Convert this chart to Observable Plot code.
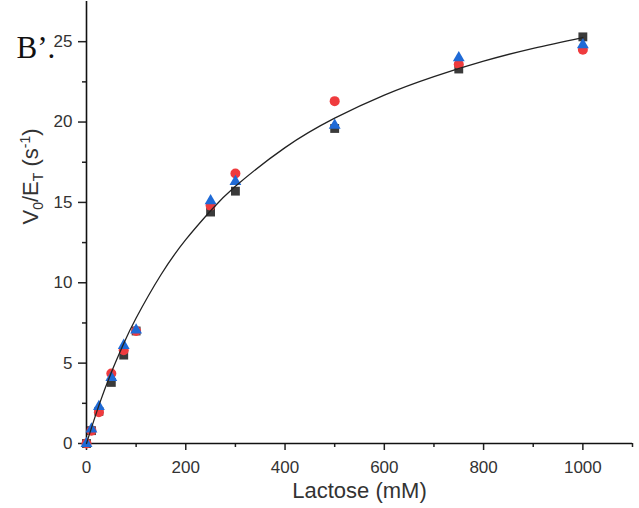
<!DOCTYPE html>
<html><head><meta charset="utf-8">
<script src="https://cdn.jsdelivr.net/npm/d3@7"></script>
<script src="https://cdn.jsdelivr.net/npm/@observablehq/plot@0.6"></script>
<style>body{margin:0;background:#fff} #chart{width:639px;height:508px}</style>
</head><body><div id="chart"></div>
<script>
// Data
const lactose   = [0, 10, 25, 50, 75, 100, 250, 300, 500, 750, 1000];
const squareV   = [0, 0.8, 2.0, 3.8, 5.5, 7.0, 14.4, 15.7, 19.6, 23.3, 25.3];
const circleV   = [0, 0.8, 1.95, 4.35, 5.8, 7.0, 14.8, 16.8, 21.3, 23.6, 24.5];
const triangleV = [0, 0.9, 2.3, 4.1, 6.1, 7.05, 15.1, 16.3, 19.8, 24.0, 24.8];
// fitted curve
const fitX = [0, 25, 50, 75, 100, 150, 200, 250, 300, 400, 500, 600, 700, 800, 900, 1000];
const fitV = [0, 2.37, 4.42, 6.22, 7.81, 10.5, 12.68, 14.48, 16.0, 18.41, 20.24, 21.68, 22.83, 23.79, 24.59, 25.26];
const xTicks = [0, 200, 400, 600, 800, 1000];
const xMinor = [100, 300, 500, 700, 900, 1100];
const yTicks = [0, 5, 10, 15, 20, 25];
const yMinor = [2.5, 7.5, 12.5, 17.5, 22.5];
const xLabel = "Lactose (mM)";
const yLabel = "V0/ET (s-1)";
const panelLabel = "B’.";

const sq = lactose.map((x, i) => ({x, v: squareV[i]}));
const ci = lactose.map((x, i) => ({x, v: circleV[i]}));
const tr = lactose.map((x, i) => ({x, v: triangleV[i]}));
const fit = fitX.map((x, i) => ({x, v: fitV[i]}));

const plot = Plot.plot({
  width: 639, height: 508,
  marginLeft: 86, marginRight: 7, marginTop: 1, marginBottom: 65,
  x: {domain: [0, 1100]},
  y: {domain: [0, 27.5]},
  style: {fontFamily: "'Liberation Sans', Arial, sans-serif", fontSize: "17px", color: "#222", background: "white", overflow: "visible"},
  marks: [
    Plot.axisX(xMinor, {tickSize: 4, tickFormat: () => "", label: null, strokeWidth: 1.5}),
    Plot.axisX(xTicks, {tickSize: 7, tickPadding: 10, tickFormat: d => String(d), label: null, strokeWidth: 1.5, fill: "#333"}),
    Plot.axisY(yMinor, {tickSize: 4, tickFormat: () => "", label: null, strokeWidth: 1.5}),
    Plot.axisY(yTicks, {tickSize: 8, tickPadding: 6, tickFormat: d => String(d), label: null, strokeWidth: 1.5, fill: "#333"}),
    Plot.ruleX([0], {stroke: "#111", strokeWidth: 1.6}),
    Plot.ruleY([0], {stroke: "#111", strokeWidth: 1.6}),
    Plot.dot(sq, {x: "x", y: "v", symbol: "square", r: 5, fill: "#3a3a3a", stroke: "none"}),
    Plot.dot(ci, {x: "x", y: "v", symbol: "circle", r: 5, fill: "#ef3b3e", stroke: "none"}),
    Plot.dot(tr, {x: "x", y: "v", symbol: "triangle", r: 4.4, fill: "#1f6ad6", stroke: "none"}),
    Plot.line(fit, {x: "x", y: "v", curve: "natural", stroke: "#222", strokeWidth: 1.3}),
    Plot.text([xLabel], {frameAnchor: "bottom", dy: 54, fontSize: 22, fill: "#333"}),
    Plot.text([yLabel], {frameAnchor: "left", rotate: -90, dx: -56, dy: 2, fontSize: 22, fill: "#333"}),
    Plot.text([panelLabel], {frameAnchor: "top-left", dx: -70, dy: 56, lineAnchor: "bottom", textAnchor: "start", fontFamily: "'Liberation Serif', 'Times New Roman', serif", fontSize: 31, fill: "#111"})
  ]
});
document.getElementById("chart").appendChild(plot);

// rich text for the y label (subscripts, superscript)
d3.select(plot).selectAll("text").filter(function() { return this.textContent === yLabel; }).each(function() {
  const t = d3.select(this);
  t.text(null);
  const parts = [["V", 0], ["0", 1], ["/E", 0], ["T", 1], [" (s", 0], ["-1", -1], [")", 0]];
  for (const [s, k] of parts) {
    const ts = t.append("tspan").text(s);
    if (k === 1) ts.attr("font-size", 14).attr("baseline-shift", "-5px");
    if (k === -1) ts.attr("font-size", 14).attr("baseline-shift", "8px");
  }
});
</script>
</body></html>
